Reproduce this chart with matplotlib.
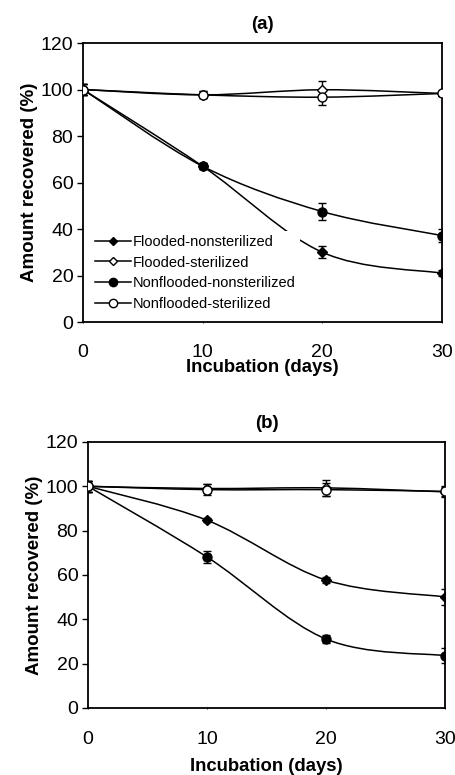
import numpy as np
import matplotlib
matplotlib.use('Agg')
import matplotlib.pyplot as plt
from matplotlib.path import Path
from matplotlib.patches import PathPatch
from matplotlib.lines import Line2D

plt.rcParams['font.family'] = ['Liberation Sans', 'DejaVu Sans']

days = [0, 10, 20, 30]
series_names = ['Flooded-nonsterilized', 'Flooded-sterilized',
                'Nonflooded-nonsterilized', 'Nonflooded-sterilized']

# panel (a)
a_flood_nonster = [100, 67, 30, 21]
a_flood_ster = [100, 97.7, 99.9, 98.3]
a_nonflood_nonster = [100, 67, 47.5, 37.2]
a_nonflood_ster = [100, 97.7, 96.7, 98.3]
a_err_flood_nonster = [2.5, 1.2, 2.5, 1.2]
a_err_flood_ster = [2.5, 1.5, 3.7, 1.2]
a_err_nonflood_nonster = [2.5, 1.2, 3.5, 2.8]
a_err_nonflood_ster = [2.5, 1.5, 3.5, 1.2]

# panel (b)
b_flood_nonster = [100, 84.7, 57.7, 50.1]
b_flood_ster = [100, 99, 99.3, 97.5]
b_nonflood_nonster = [100, 68.1, 31.1, 23.6]
b_nonflood_ster = [100, 98.5, 98.5, 97.7]
b_err_flood_nonster = [2.5, 1.0, 1.5, 3.5]
b_err_flood_ster = [2.5, 2.0, 3.5, 2.5]
b_err_nonflood_nonster = [2.5, 2.7, 2.0, 3.4]
b_err_nonflood_ster = [2.5, 2.5, 3.0, 2.0]

markers = ['D', 'D', 'o', 'o']
fills = ['black', 'white', 'black', 'white']
msizes = [5, 5, 6.5, 6.5]


def smooth_path(x, y):
    # excel-style smoothed line as cubic bezier segments
    x = np.asarray(x, float)
    y = np.asarray(y, float)
    n = len(x)
    verts = [(x[0], y[0])]
    codes = [Path.MOVETO]
    for i in range(n - 1):
        i0 = max(i - 1, 0)
        i3 = min(i + 2, n - 1)
        c1 = (x[i] + (x[i + 1] - x[i0]) / 6, y[i] + (y[i + 1] - y[i0]) / 6)
        c2 = (x[i + 1] - (x[i3] - x[i]) / 6, y[i + 1] - (y[i3] - y[i]) / 6)
        verts += [c1, c2, (x[i + 1], y[i + 1])]
        codes += [Path.CURVE4] * 3
    return Path(verts, codes)


def draw_panel(ax, ys, errs, title, xpad, legend=False):
    for k in range(4):
        ax.add_patch(PathPatch(smooth_path(days, ys[k]), facecolor='none',
                               edgecolor='black', lw=1.1, zorder=2))
    for k in range(4):
        ax.errorbar(days, ys[k], yerr=errs[k], fmt=markers[k], ms=msizes[k],
                    mfc=fills[k], mec='black', mew=1.0, ecolor='black',
                    elinewidth=1.0, capsize=3, capthick=1.0, zorder=3)
    ax.set_xlim(0, 30)
    ax.set_ylim(0, 120)
    ax.set_xticks([0, 10, 20, 30])
    ax.set_yticks(range(0, 121, 20))
    ax.tick_params(axis='y', direction='out', length=4, width=1, pad=3,
                   labelsize=14)
    ax.tick_params(axis='x', direction='inout', length=2, width=0.6,
                   pad=xpad, labelsize=14)
    for s in ax.spines.values():
        s.set_linewidth(1.3)
    ax.set_title(title, fontsize=13.5, fontweight='bold', pad=10)
    ax.set_ylabel('Amount recovered (%)', fontsize=13.5, fontweight='bold',
                  labelpad=2)
    if legend:
        handles = [Line2D([0], [0], color='black', lw=1.1, marker=markers[k],
                          ms=msizes[k] - 0.5, mfc=fills[k], mec='black')
                   for k in range(4)]
        leg = ax.legend(handles, series_names, loc='lower left',
                        bbox_to_anchor=(0.02, 0.025), fontsize=10.5,
                        frameon=True, framealpha=1, handlelength=2.5,
                        handletextpad=0.12, labelspacing=0.45,
                        borderpad=0.3, borderaxespad=0)
        leg.get_frame().set_edgecolor('none')
        leg.get_frame().set_facecolor('white')


fig = plt.figure(figsize=(4.55, 7.75), dpi=100)
ax1 = fig.add_axes([0.1824, 0.5845, 0.789, 0.36])
ax2 = fig.add_axes([0.1934, 0.0865, 0.7846, 0.3432])

draw_panel(ax1, [a_flood_nonster, a_flood_ster, a_nonflood_nonster, a_nonflood_ster],
           [a_err_flood_nonster, a_err_flood_ster, a_err_nonflood_nonster, a_err_nonflood_ster],
           '(a)', xpad=14.5, legend=True)
ax1.set_xlabel('Incubation (days)', fontsize=13.3, fontweight='bold', labelpad=-1)

draw_panel(ax2, [b_flood_nonster, b_flood_ster, b_nonflood_nonster, b_nonflood_ster],
           [b_err_flood_nonster, b_err_flood_ster, b_err_nonflood_nonster, b_err_nonflood_ster],
           '(b)', xpad=15.5)
ax2.set_xlabel('Incubation (days)', fontsize=13.3, fontweight='bold', labelpad=7)

fig.savefig('out.png', dpi=100)
